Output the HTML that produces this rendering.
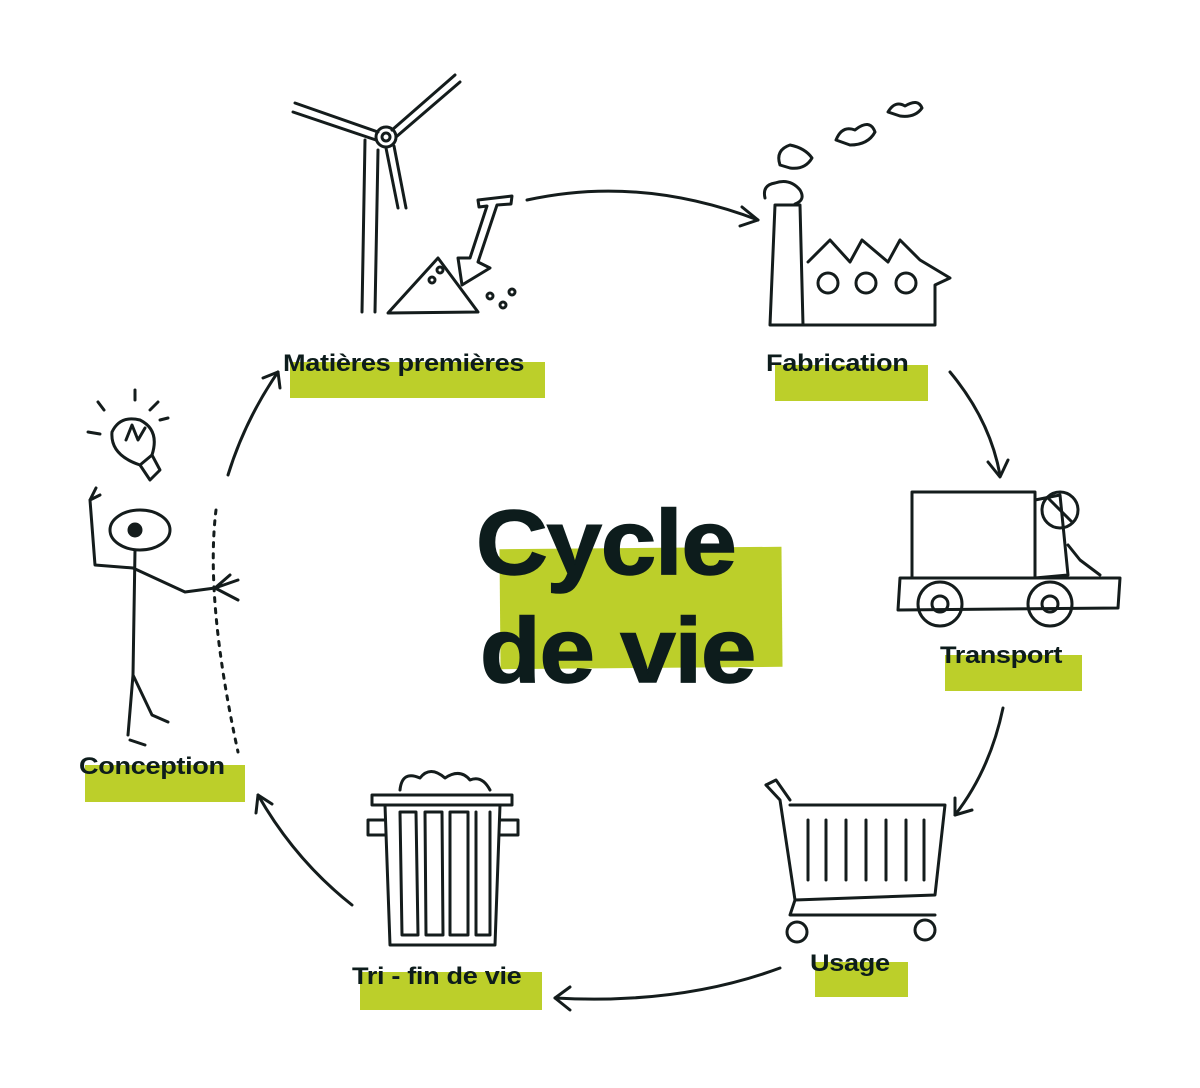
<!DOCTYPE html>
<html><head><meta charset="utf-8">
<style>
html,body{margin:0;padding:0;background:#fff;}
body{width:1200px;height:1088px;position:relative;overflow:hidden;font-family:"Liberation Sans",sans-serif;color:#0d1c1c;}
.band{position:absolute;background:#bccf2a;}
.lbl{position:absolute;font-weight:bold;font-size:24px;white-space:nowrap;letter-spacing:-0.3px;transform:scaleX(1.13);transform-origin:0 0;}
.big{position:absolute;font-weight:bold;font-size:92px;line-height:1;letter-spacing:-1px;transform:scaleX(1.08);transform-origin:0 0;-webkit-text-stroke:1.5px #0d1c1c;}
svg{position:absolute;left:0;top:0;}
</style></head><body>
<div class="band" style="left:500px;top:548px;width:282px;height:120px;transform:rotate(-0.5deg)"></div>
<div class="big" style="left:476px;top:497px;">Cycle</div>
<div class="big" style="left:480px;top:605px;">de vie</div>

<div class="band" style="left:290px;top:362px;width:255px;height:36px"></div>
<div class="lbl" style="left:283px;top:350px">Matières premières</div>
<div class="band" style="left:775px;top:365px;width:153px;height:36px"></div>
<div class="lbl" style="left:766px;top:350px">Fabrication</div>
<div class="band" style="left:945px;top:655px;width:137px;height:36px"></div>
<div class="lbl" style="left:940px;top:642px">Transport</div>
<div class="band" style="left:815px;top:962px;width:93px;height:35px"></div>
<div class="lbl" style="left:810px;top:950px">Usage</div>
<div class="band" style="left:360px;top:972px;width:182px;height:38px"></div>
<div class="lbl" style="left:352px;top:963px">Tri - fin de vie</div>
<div class="band" style="left:85px;top:765px;width:160px;height:37px"></div>
<div class="lbl" style="left:79px;top:753px">Conception</div>

<svg width="1200" height="1088" viewBox="0 0 1200 1088" fill="none" stroke="#141c1c" stroke-width="3" stroke-linecap="round" stroke-linejoin="round">
<path d="M527 200 Q640 175 758 220"/><path d="M742 207 L758 220 L740 226"/>
<path d="M950 372 Q990 420 1000 475"/><path d="M988 462 L1000 477 L1008 460"/>
<path d="M1003 708 Q990 770 955 815"/><path d="M955 798 L955 815 L972 810"/>
<path d="M780 968 Q680 1005 555 998"/><path d="M570 987 L555 998 L570 1010"/>
<path d="M352 905 Q295 860 258 795"/><path d="M256 813 L258 795 L272 804"/>
<path d="M228 475 Q245 420 278 372"/><path d="M263 378 L278 372 L280 388"/>
<path d="M216 510 Q205 600 238 752" stroke-dasharray="4 7"/>
<path d="M365 140 L362 312 M378 150 L375 312"/>
<circle cx="386" cy="137" r="10"/><circle cx="386" cy="137" r="4"/>
<path d="M295 103 L378 132 M293 112 L376 140"/>
<path d="M392 130 L455 75 M396 137 L460 82"/>
<path d="M386 148 L398 208 M394 146 L406 208"/>
<path d="M388 313 L438 258 L478 312 Z"/>
<path d="M478 200 L512 196 L511 204 L497 205 L478 262 L490 268 L462 285 L458 258 L470 258 L487 206 L479 207 Z"/>
<circle cx="440" cy="270" r="3"/><circle cx="432" cy="280" r="3"/><circle cx="490" cy="296" r="3"/><circle cx="503" cy="305" r="3"/><circle cx="512" cy="292" r="3"/>
<path d="M770 325 L775 205 L800 205 L803 325 M770 325 L935 325 L935 285 L950 278 L920 260 L900 240 L888 262 L862 240 L850 262 L830 240 L808 262"/>
<circle cx="828" cy="283" r="10"/><circle cx="866" cy="283" r="10"/><circle cx="906" cy="283" r="10"/>
<path d="M765 198 Q762 185 775 183 Q790 178 800 190 Q806 200 795 204"/>
<path d="M780 165 Q775 150 790 145 Q805 148 812 158 Q805 170 790 168 Z"/>
<path d="M836 140 Q842 125 855 130 Q870 118 875 132 Q868 145 850 145 Z"/>
<path d="M888 112 Q895 100 905 106 Q918 98 922 108 Q915 118 900 116 Z"/>
<path d="M912 492 L1035 492 L1035 578 L912 578 Z"/>
<path d="M1035 500 L1060 495 L1068 575 L1035 578"/>
<circle cx="1060" cy="510" r="18"/><path d="M1048 498 L1072 522"/>
<path d="M1068 545 L1080 560 L1100 575"/>
<path d="M900 578 L1120 578 L1118 608 L898 610 Z"/>
<circle cx="940" cy="604" r="22"/><circle cx="940" cy="604" r="8"/>
<circle cx="1050" cy="604" r="22"/><circle cx="1050" cy="604" r="8"/>
<path d="M766 785 L780 800 L795 900 L935 895 L945 805 L790 805"/>
<path d="M766 785 L776 780 L790 800"/>
<path d="M808 820 L808 880 M826 820 L826 880 M846 820 L846 880 M866 820 L866 880 M886 820 L886 880 M906 820 L906 880 M924 820 L924 880"/>
<path d="M795 900 L790 915 L935 915"/>
<circle cx="797" cy="932" r="10"/><circle cx="925" cy="930" r="10"/>
<path d="M372 795 L512 795 L512 805 L372 805 Z"/>
<path d="M385 805 L390 945 L495 945 L500 805"/>
<path d="M400 812 L402 935 L418 935 L416 812 Z M425 812 L426 935 L443 935 L442 812 Z M450 812 L450 935 L468 935 L468 812 Z M476 812 L476 935 L490 935 L490 812"/>
<path d="M385 820 L368 820 L368 835 L385 835 M500 820 L518 820 L518 835 L500 835"/>
<path d="M400 790 Q402 770 420 778 Q430 765 445 778 Q460 768 470 780 Q482 775 490 790"/>
<ellipse cx="140" cy="530" rx="30" ry="20"/><circle cx="135" cy="530" r="6" fill="#141c1c"/>
<path d="M135 550 L133 675 L128 735 M133 675 L152 715 L168 722"/>
<path d="M133 568 L95 565 L90 500 L96 488 M90 500 L100 495"/>
<path d="M133 568 L185 592 L215 588 M215 588 L238 580 M215 588 L238 600 M215 588 L230 575"/>
<path d="M130 740 L145 745"/>
<path d="M140 465 Q110 455 112 432 Q120 415 140 420 Q160 430 152 455 Z"/>
<path d="M140 465 L150 480 L160 470 L152 455"/>
<path d="M126 440 L132 425 L138 440 L145 428"/>
<path d="M104 410 L98 402 M135 400 L135 390 M150 410 L158 402 M88 432 L100 434 M160 420 L168 418"/>
</svg>
</body></html>
